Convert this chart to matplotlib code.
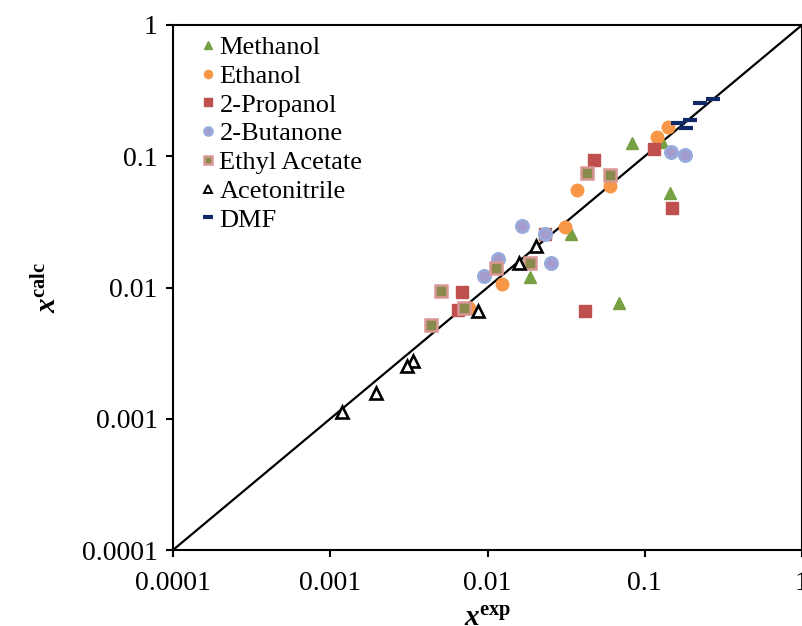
import numpy as np
import matplotlib.pyplot as plt
from matplotlib.ticker import FixedLocator, FixedFormatter, NullLocator

plt.rcParams['font.family'] = ['Liberation Serif', 'DejaVu Serif']
plt.rcParams['mathtext.fontset'] = 'custom'
plt.rcParams['mathtext.rm'] = 'Liberation Serif'
plt.rcParams['mathtext.it'] = 'Liberation Serif:italic'
plt.rcParams['mathtext.bf'] = 'Liberation Serif:bold'
plt.rcParams['mathtext.bfit'] = 'Liberation Serif:bold:italic'

# data (x_exp, x_calc)
meth_exp = [0.0826, 0.128, 0.144, 0.0338, 0.0185, 0.0683]
meth_calc = [0.126, 0.129, 0.0522, 0.0254, 0.0120, 0.00766]

eth_exp = [0.141, 0.119, 0.0373, 0.0604, 0.0309, 0.0124, 0.00768]
eth_calc = [0.166, 0.141, 0.0553, 0.0597, 0.0291, 0.0106, 0.00695]

prop_exp = [0.0476, 0.1146, 0.1486, 0.0233, 0.00686, 0.00647, 0.0415]
prop_calc = [0.0936, 0.113, 0.0401, 0.0256, 0.00919, 0.00674, 0.00666]

but_exp = [0.146, 0.1816, 0.01655, 0.0231, 0.0252, 0.01164, 0.00957]
but_calc = [0.108, 0.102, 0.0296, 0.0256, 0.0153, 0.0164, 0.0123]

ea_exp = [0.0432, 0.0604, 0.0185, 0.01125, 0.00507, 0.00714, 0.00438]
ea_calc = [0.075, 0.0720, 0.0153, 0.01416, 0.00946, 0.00694, 0.00518]

acn_exp = [0.0202, 0.01575, 0.00867, 0.00334, 0.00308, 0.001954, 0.00118]
acn_calc = [0.0208, 0.01546, 0.00666, 0.00275, 0.00254, 0.00156, 0.00112]

dmf_exp = [0.224, 0.271, 0.163, 0.194, 0.184]
dmf_calc = [0.253, 0.273, 0.178, 0.189, 0.165]

ticks = [0.0001, 0.001, 0.01, 0.1, 1]
tick_labels = ['0.0001', '0.001', '0.01', '0.1', '1']

fig = plt.figure(figsize=(8.02, 6.26), dpi=100)
ax = fig.add_axes([173/802, 76/626, 629/802, 525/626])

ms = 9
ax.plot(meth_exp, meth_calc, '^', ms=ms, color='#77a043', mec='#77a043', label='Methanol')
ax.plot(eth_exp, eth_calc, 'o', ms=ms, color='#f79646', mec='#f79646', label='Ethanol')
ax.plot(prop_exp, prop_calc, 's', ms=ms, color='#c0504d', mec='#c0504d', label='2-Propanol')
ax.plot(but_exp, but_calc, 'o', ms=ms, color='#a39ccd', mec='#97acdc', mew=1.8, label='2-Butanone')
ax.plot(ea_exp, ea_calc, 's', ms=ms, color='#8a8a4c', mec='#d99694', mew=1.8, label='Ethyl Acetate')
ax.plot(acn_exp, acn_calc, '^', ms=8.5, color='white', mec='black', mew=1.9, label='Acetonitrile')
ax.plot(dmf_exp, dmf_calc, '_', ms=10, color='#0f2a66', mew=3, label='DMF')

ax.plot([0.0001, 1], [0.0001, 1], color='black', lw=1.6, zorder=1)

ax.set_xscale('log')
ax.set_yscale('log')
ax.set_xlim(0.0001, 1)
ax.set_ylim(0.0001, 1)
for a in (ax.xaxis, ax.yaxis):
    a.set_major_locator(FixedLocator(ticks))
    a.set_major_formatter(FixedFormatter(tick_labels))
    a.set_minor_locator(NullLocator())
ax.tick_params(direction='out', length=5, width=1.5, labelsize=20)
ax.tick_params(axis='x', pad=10)
ax.tick_params(axis='y', pad=6)
for s in ax.spines.values():
    s.set_linewidth(1.5)

ax.set_xlabel(r'$\mathbfit{x}^{\mathbf{exp}}$', fontsize=21, labelpad=7)
ax.set_ylabel(r'$\mathbfit{x}^{\mathbf{calc}}$', fontsize=21, labelpad=14)

leg = ax.legend(loc='upper left', bbox_to_anchor=(0.015, 1.01), frameon=False, fontsize=19,
                markerscale=0.65, handlelength=0.7, handletextpad=0.1, labelspacing=0.2,
                borderaxespad=0.2)
# open triangle in the legend keeps a thin edge
leg.legend_handles[5].set_markeredgewidth(1.4)

fig.savefig('out.png', dpi=100)
